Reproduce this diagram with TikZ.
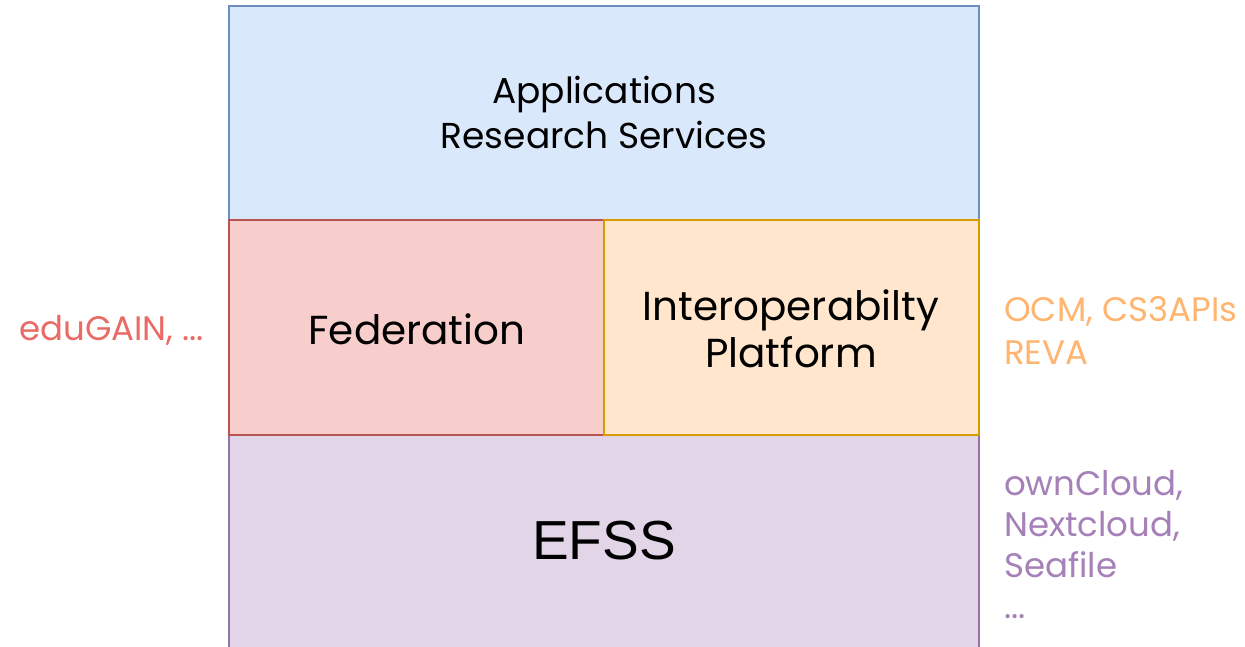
\documentclass[tikz,border=0pt]{standalone}
\usepackage{fontspec}
\setmainfont{Poppins}
\newfontfamily\arialfont{Liberation Sans}
\definecolor{bfill}{HTML}{DAE8FC}\definecolor{bdraw}{HTML}{6C8EBF}
\definecolor{rfill}{HTML}{F8CECC}\definecolor{rdraw}{HTML}{B85450}
\definecolor{ofill}{HTML}{FFE6CC}\definecolor{odraw}{HTML}{D79B00}
\definecolor{pfill}{HTML}{E1D5E7}\definecolor{pdraw}{HTML}{9673A6}
\definecolor{rtext}{HTML}{EA6B66}\definecolor{otext}{HTML}{FFB570}\definecolor{ptext}{HTML}{A680B8}
\begin{document}
\begin{tikzpicture}[x=1pt,y=-1pt,
  layer/.style={draw=#1draw,fill=#1fill,line width=1.2pt},
  lbl/.style={align=center,text=black,inner sep=0pt},
  side/.style={align=left,anchor=west,inner sep=0pt}]
\useasboundingbox (0,0) rectangle (1245,647);
\clip (0,0) rectangle (1245,647);
\fill[white] (0,0) rectangle (1245,647);
\draw[layer=p] (229,435) rectangle (979,700);
\draw[layer=b] (229,6) rectangle (979,220);
\draw[layer=r] (229,220) rectangle (604,435);
\draw[layer=o] (604,220) rectangle (979,435);
\node[lbl,font=\fontsize{36}{45}\selectfont] (app) at (604,112) {Applications\\Research Services};
\node[lbl,font=\fontsize{40.5}{47}\selectfont] (fed) at (417,329) {Federation};
\node[lbl,font=\fontsize{40.5}{47}\selectfont] (iop) at (791,329) {Interoperabilty\\Platform};
\node[lbl,font=\arialfont\fontsize{55}{60}\selectfont] (efss) at (604,541) {EFSS};
\node[side,text=rtext,font=\fontsize{34}{40}\selectfont] (edu) at (19,330) {eduGAIN, ...};
\node[side,text=otext,font=\fontsize{34}{43}\selectfont] (ocm) at (1004,330) {OCM, CS3APIs\\REVA};
\node[side,text=ptext,font=\fontsize{34}{41}\selectfont,anchor=north west] (own) at (1004,470) {ownCloud,\\Nextcloud,\\Seafile\\...};
\end{tikzpicture}
\end{document}
